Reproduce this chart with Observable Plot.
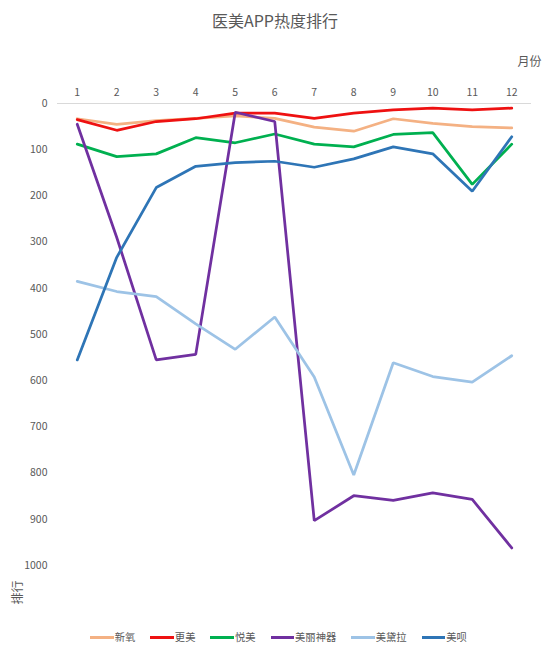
<!DOCTYPE html>
<html>
<head>
<meta charset="utf-8">
<script src="https://cdn.jsdelivr.net/npm/d3@7"></script>
<script src="https://cdn.jsdelivr.net/npm/@observablehq/plot@0.6"></script>
<style>
  body { margin: 0; background: #fff; font-family: "Noto Sans CJK SC", sans-serif; color: #595959; }
  #wrap { width: 550px; }
  #title { height: 40px; line-height: 40px; text-align: center; font-size: 16px; }
  #legend { display: flex; justify-content: center; gap: 15px; margin-top: 14px; padding-left: 7px; font-size: 10.3px; line-height: 16px; }
  #legend .item { display: flex; align-items: center; gap: 1px; }
  #legend .sw { width: 23.5px; height: 3px; }
</style>
</head>
<body>
<div id="wrap">
  <div id="title">医美APP热度排行</div>
  <div id="chart"></div>
  <div id="legend"></div>
</div>
<script>
// 月份
const months = [1, 2, 3, 4, 5, 6, 7, 8, 9, 10, 11, 12];
const yTicks = [0, 100, 200, 300, 400, 500, 600, 700, 800, 900, 1000];

// 各APP每月排行
const xinyang   = [33, 45, 37, 32, 27, 32, 51, 60, 33, 43, 50, 53];
const gengmei   = [35, 58, 39, 33, 21, 21, 32, 21, 14, 10, 14, 10];
const yuemei    = [88, 115, 109, 74, 85, 66, 88, 94, 67, 63, 175, 88];
const meilishenqi = [45, 290, 555, 543, 19, 39, 903, 849, 859, 843, 857, 962];
const meidaila  = [385, 407, 418, 477, 532, 462, 592, 804, 561, 591, 603, 546];
const meibei    = [555, 333, 182, 136, 128, 125, 138, 120, 94, 109, 190, 72];

const apps = ["新氧", "更美", "悦美", "美丽神器", "美黛拉", "美呗"];
const colors = ["#F4B183", "#EE1111", "#00B050", "#7030A0", "#9DC3E6", "#2E75B6"];
const series = [xinyang, gengmei, yuemei, meilishenqi, meidaila, meibei];

// 拼成长表
const rows = [];
series.forEach((vals, i) => {
  vals.forEach((v, j) => rows.push({app: apps[i], month: months[j], rank: v}));
});

const chart = Plot.plot({
  width: 550,
  height: 575,
  marginTop: 63,
  marginBottom: 50,
  marginLeft: 57,
  marginRight: 19,
  style: { fontFamily: "'Noto Sans CJK SC', sans-serif", fontSize: "10.5px", color: "#595959", background: "#fff" },
  x: { type: "point", domain: months, padding: 0.5, round: false, axis: null },
  y: { domain: [0, 1000], reverse: true, axis: null },
  color: { domain: apps, range: colors },
  marks: [
    Plot.ruleY([0], { stroke: "#d9d9d9" }),
    // 刻度文字（顶部月份、左侧排行）
    Plot.text(months, { x: d => d, frameAnchor: "top", dy: -15, text: d => String(d), fill: "#595959" }),
    Plot.text(yTicks, { y: d => d, frameAnchor: "left", dx: -10, textAnchor: "end", text: d => String(d), fill: "#595959" }),
    Plot.line(rows, { x: "month", y: "rank", z: "app", stroke: "app", strokeWidth: 2.75, strokeLinejoin: "miter" }),
    Plot.text(["月份"], { frameAnchor: "top-right", text: d => d, dx: 10, dy: -46, textAnchor: "end", fontSize: 12, fill: "#595959" }),
    Plot.text(["排行"], { frameAnchor: "bottom-left", text: d => d, dx: -36, dy: 39, rotate: -90, fontSize: 12, fill: "#595959" })
  ]
});

document.getElementById("chart").append(chart);

const legend = d3.select("#legend");
apps.forEach((a, i) => {
  const it = legend.append("div").attr("class", "item");
  it.append("div").attr("class", "sw").style("background", colors[i]);
  it.append("span").text(a);
});
</script>
</body>
</html>
